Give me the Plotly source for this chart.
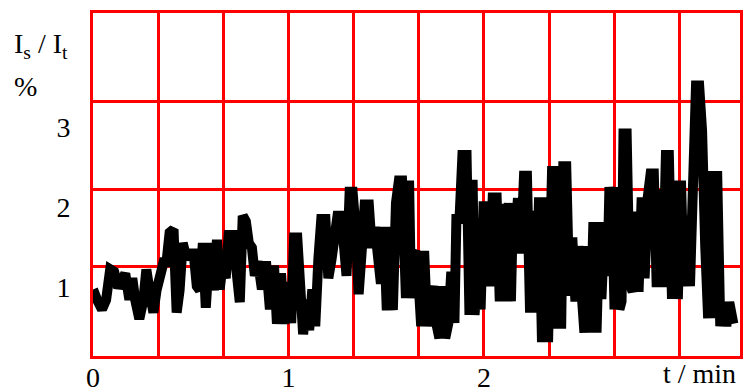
import plotly.graph_objects as go

# time in minutes
t_min = [
    0.000, 0.008, 0.021, 0.046, 0.067, 0.088, 0.108, 0.129, 0.144, 0.165,
    0.186, 0.201, 0.216, 0.237, 0.258, 0.273, 0.289, 0.309, 0.325, 0.340,
    0.361, 0.376, 0.392, 0.412, 0.428, 0.443, 0.459, 0.479, 0.495, 0.515,
    0.531, 0.546, 0.562, 0.577, 0.598, 0.619, 0.634, 0.648, 0.663, 0.679,
    0.694, 0.715, 0.735, 0.751, 0.766, 0.782, 0.797, 0.813, 0.828, 0.844,
    0.864, 0.885, 0.905, 0.926, 0.941, 0.962, 0.978, 0.998, 1.014, 1.029,
    1.045, 1.060, 1.075, 1.091, 1.106, 1.122, 1.137, 1.153, 1.168, 1.189,
    1.204, 1.220, 1.235, 1.251, 1.271, 1.287, 1.297, 1.313, 1.328, 1.344,
    1.359, 1.375, 1.390, 1.411, 1.426, 1.442, 1.457, 1.473, 1.488, 1.503,
    1.519, 1.534, 1.550, 1.565, 1.581, 1.591, 1.601, 1.617, 1.627, 1.637,
    1.653, 1.668, 1.679, 1.694, 1.710, 1.725, 1.741, 1.756, 1.772, 1.787,
    1.802, 1.818, 1.833, 1.849, 1.859, 1.875, 1.890, 1.911, 1.926, 1.942,
    1.952, 1.968, 1.983, 1.998, 2.014, 2.029, 2.045, 2.065, 2.081, 2.096,
    2.112, 2.127, 2.138, 2.148, 2.158, 2.174, 2.189, 2.205, 2.220, 2.236,
    2.251, 2.267, 2.282, 2.297, 2.313, 2.328, 2.339, 2.349, 2.364, 2.380,
    2.395, 2.406, 2.421, 2.437, 2.452, 2.468, 2.483, 2.498, 2.514, 2.529,
    2.545, 2.560, 2.576, 2.591, 2.601, 2.616, 2.632, 2.642, 2.657, 2.668,
    2.683, 2.693, 2.704, 2.714, 2.730, 2.745, 2.761, 2.776, 2.791, 2.807,
    2.822, 2.838, 2.853, 2.869, 2.884, 2.900, 2.915, 2.931, 2.946, 2.962,
    2.977, 2.992, 3.008, 3.023, 3.039, 3.054, 3.070, 3.085, 3.101, 3.116,
    3.132, 3.147, 3.163, 3.178, 3.193, 3.209, 3.224, 3.240, 3.255, 3.276,
]

# Is / It in percent
ratio_pct = [
    0.97, 0.94, 0.84, 0.72, 0.84, 1.22, 1.19, 0.99, 1.09, 1.17,
    0.84, 1.11, 0.84, 0.60, 0.84, 1.22, 0.96, 0.68, 0.96, 1.17,
    1.31, 1.31, 1.68, 1.72, 0.68, 0.96, 1.55, 1.35, 1.42, 1.42,
    1.01, 0.96, 1.55, 0.74, 1.55, 0.96, 1.59, 0.97, 1.27, 1.11,
    1.65, 1.65, 1.20, 0.81, 1.89, 1.82, 1.55, 1.49, 1.14, 1.32,
    0.97, 1.32, 0.72, 1.27, 0.54, 1.17, 0.54, 1.06, 0.55, 1.62,
    1.62, 0.79, 0.41, 0.84, 0.46, 0.97, 0.51, 1.35, 1.85, 1.85,
    1.11, 1.34, 1.70, 1.89, 1.89, 1.14, 1.14, 2.19, 2.19, 1.71,
    0.91, 1.46, 2.03, 2.03, 1.49, 1.75, 1.34, 1.04, 1.75, 0.71,
    1.75, 0.71, 2.05, 2.33, 2.33, 1.26, 0.86, 2.33, 0.86, 1.40,
    1.45, 0.96, 0.51, 1.45, 0.51, 0.84, 1.01, 0.55, 0.36, 1.01,
    0.36, 0.55, 1.19, 0.55, 1.85, 1.85, 2.65, 2.65, 0.65, 2.34,
    0.65, 1.22, 0.72, 2.01, 2.01, 1.01, 2.12, 2.12, 0.82, 2.04,
    0.82, 2.05, 0.82, 1.91, 1.55, 2.11, 1.42, 2.39, 2.39, 0.68,
    1.95, 0.68, 2.12, 0.31, 2.12, 0.31, 2.25, 2.51, 0.48, 2.51,
    0.48, 2.51, 2.51, 0.89, 1.62, 0.82, 1.51, 0.82, 0.43, 1.51,
    0.43, 1.81, 0.43, 1.81, 0.85, 1.71, 1.14, 2.25, 1.95, 0.72,
    2.25, 0.72, 0.82, 2.92, 2.92, 1.05, 0.94, 1.94, 0.94, 2.12,
    1.11, 2.12, 2.42, 2.42, 1.00, 2.22, 1.00, 2.65, 2.65, 0.85,
    2.33, 0.85, 2.33, 1.01, 1.89, 1.01, 2.41, 3.52, 3.52, 2.95,
    1.51, 0.61, 2.45, 0.61, 2.45, 0.51, 0.81, 0.51, 0.81, 0.54,
]

x_tick_vals = [0, 1, 2]
x_tick_text = ["0", "1", "2"]
x_grid_vals = [1/3, 2/3, 4/3, 5/3, 7/3, 8/3, 3]
y_tick_vals = [1, 2, 3]
y_tick_text = ["1", "2", "3"]
y_grid_vals = [1.2625, 2.225, 3.325]

FONT = "Liberation Serif"
RED = "#ff0000"

fig = go.Figure(
    go.Scatter(
        x=t_min, y=ratio_pct, mode="lines",
        line=dict(color="black", width=10),
        hoverinfo="skip",
    )
)

fig.update_layout(
    width=746, height=392,
    margin=dict(l=93, r=6, t=13, b=36),
    paper_bgcolor="white", plot_bgcolor="white",
    showlegend=False,
    font=dict(family=FONT, size=28, color="black"),
    xaxis=dict(
        range=[0, 3.31], automargin=False,
        tickmode="array", tickvals=x_tick_vals, ticktext=x_tick_text,
        showgrid=True, gridcolor=RED, gridwidth=3,
        showline=True, mirror=True, linecolor=RED, linewidth=3,
        zeroline=False, ticks="", ticklabelstandoff=-6,
        tickfont=dict(family=FONT, size=28, color="black"),
        minor=dict(tickmode="array", tickvals=x_grid_vals, showgrid=True,
                   gridcolor=RED, gridwidth=3, ticks=""),
        fixedrange=True,
    ),
    yaxis=dict(
        range=[0.1375, 4.425], automargin=False,
        tickmode="array", tickvals=y_tick_vals, ticktext=y_tick_text,
        showgrid=False,
        showline=True, mirror=True, linecolor=RED, linewidth=3,
        zeroline=False, ticks="", ticklabelstandoff=14,
        tickfont=dict(family=FONT, size=28, color="black"),
        minor=dict(tickmode="array", tickvals=y_grid_vals, showgrid=True,
                   gridcolor=RED, gridwidth=3, ticks=""),
        fixedrange=True,
    ),
    annotations=[
        dict(text="I<sub>s</sub> / I<sub>t</sub>", xref="paper", yref="paper",
             x=-0.125, y=0.905, xanchor="left", yanchor="middle",
             showarrow=False, font=dict(family=FONT, size=28, color="black")),
        dict(text="%", xref="paper", yref="paper",
             x=-0.125, y=0.787, xanchor="left", yanchor="middle",
             showarrow=False, font=dict(family=FONT, size=28, color="black")),
        dict(text="t / min", xref="paper", yref="paper",
             x=0.997, y=-0.103, xanchor="right", yanchor="bottom",
             showarrow=False, font=dict(family=FONT, size=28, color="black")),
    ],
)

fig.write_html(
    "out.html",
    config={"displayModeBar": False},
    post_script="document.body.style.margin='0';document.body.style.padding='0';",
)
